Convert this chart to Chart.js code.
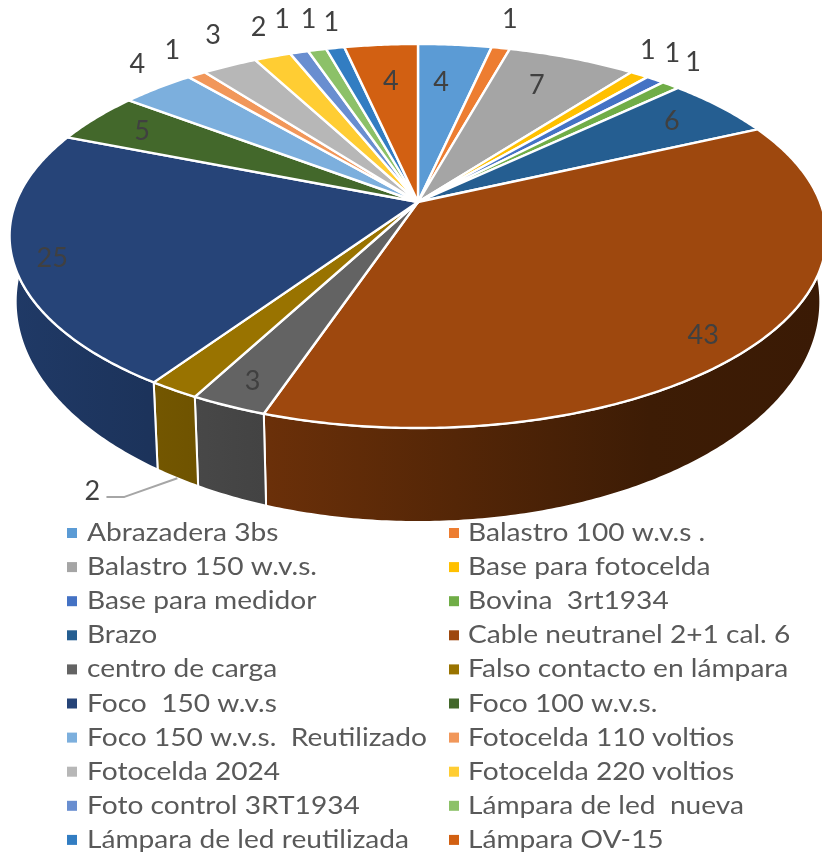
<!DOCTYPE html>
<html><head><meta charset="utf-8">
<style>html,body{margin:0;padding:0;background:#fff}canvas{display:block}</style>
<script src="https://cdn.jsdelivr.net/npm/chart.js@4"></script>
</head><body><canvas id="c" width="822" height="856"></canvas>
<script>
const categories = ["Abrazadera 3bs","Balastro 100 w.v.s .","Balastro 150 w.v.s.","Base para fotocelda","Base para medidor","Bovina  3rt1934","Brazo","Cable neutranel 2+1 cal. 6","centro de carga","Falso contacto en lámpara","Foco  150 w.v.s","Foco 100 w.v.s.","Foco 150 w.v.s.  Reutilizado","Fotocelda 110 voltios","Fotocelda 2024","Fotocelda 220 voltios","Foto control 3RT1934","Lámpara de led  nueva","Lámpara de led reutilizada","Lámpara OV-15"];
const values = [4,1,7,1,1,1,6,43,3,2,25,5,4,1,3,2,1,1,1,4];
const sliceColors = ["#5B9BD5","#ED7D31","#A5A5A5","#FFC000","#4472C4","#70AD47","#255E91","#9E480E","#636363","#997300","#264478","#43682B","#7CAFDD","#F1975A","#B7B7B7","#FFCD33","#698ED0","#8CC168","#327DC2","#D26012"];
// label placement relative to each slice: radius fraction and angular nudge (degrees)
const labelRadius = [.731,1.223,.782,1.166,1.19,1.173,.828,.894,.894,1.374,.91,.842,1.173,1.193,1.228,1.226,1.26,1.236,1.197,.739];
const labelTurn = [-1.1,-.9,-1.2,-3.8,-3.6,-2.7,-.2,3.3,-.1,-3.5,-1.2,-.4,3.3,2,3,2,1.2,1.6,1.4,.3];

const P = {ax:418, ay:202, c:-.177, k:186, d:402, s:.985, ay2:262.6, k2:213.5};
function project(alpha, r, bottom){
  const x = Math.cos(alpha)*r, y = Math.sin(alpha)*r, den = 1+P.c*y;
  return bottom ? [P.ax + P.s*P.d*x/den, P.ay2 + P.k2*y/den]
                : [P.ax + P.d*x/den, P.ay + P.k*y/den];
}
function shade(hex, f){
  const n = parseInt(hex.slice(1),16);
  return `rgb(${((n>>16)&255)*f|0},${((n>>8)&255)*f|0},${(n&255)*f|0})`;
}
function arcPts(a0,a1,bottom){
  const pts=[], n=Math.max(2,Math.ceil((a1-a0)/0.01));
  for(let i=0;i<=n;i++) pts.push(project(a0+(a1-a0)*i/n,1,bottom));
  return pts;
}
function trace(ctx,pts){ctx.beginPath();pts.forEach((p,i)=>i?ctx.lineTo(p[0],p[1]):ctx.moveTo(p[0],p[1]));ctx.closePath();}

const pie3d = {
  id:'pie3d',
  beforeDatasetsDraw(chart){
    const ctx = chart.ctx, arcs = chart.getDatasetMeta(0).data;
    ctx.save();
    ctx.lineJoin='round';
    // side walls
    arcs.forEach((el,i)=>{
      const top=arcPts(el.startAngle,el.endAngle,false), bot=arcPts(el.startAngle,el.endAngle,true).reverse();
      if(Math.sin((el.startAngle+el.endAngle)/2)<-0.2) return;
      const g=ctx.createLinearGradient(0,0,822,0);
      g.addColorStop(0,shade(sliceColors[i],.86));
      g.addColorStop(.18,shade(sliceColors[i],.76));
      g.addColorStop(.32,shade(sliceColors[i],.68));
      g.addColorStop(.79,shade(sliceColors[i],.39));
      g.addColorStop(1,shade(sliceColors[i],.37));
      trace(ctx,top.concat(bot));
      ctx.fillStyle=g;ctx.fill();
      ctx.strokeStyle='#fff';ctx.lineWidth=2;ctx.stroke();
    });
    // top face
    arcs.forEach((el,i)=>{
      const pts=[[P.ax,P.ay]].concat(arcPts(el.startAngle,el.endAngle,false));
      trace(ctx,pts);
      ctx.fillStyle=sliceColors[i];ctx.fill();
      ctx.strokeStyle='#fff';ctx.lineWidth=2.4;ctx.stroke();
    });
    // data labels
    ctx.font='27px Lato';ctx.textAlign='center';ctx.textBaseline='middle';
    arcs.forEach((el,i)=>{
      const mid=(el.startAngle+el.endAngle)/2, a=mid+labelTurn[i]*Math.PI/180;
      const p=project(a,labelRadius[i],false);
      ctx.fillStyle='#404040';
      ctx.fillText(String(values[i]),p[0],p[1]);
      if(labelRadius[i]>1.3){
        const e=project(mid,1,true);
        ctx.strokeStyle='#a6a6a6';ctx.lineWidth=2;
        ctx.beginPath();ctx.moveTo(p[0]+14,p[1]+6);ctx.lineTo(p[0]+32,p[1]+6);ctx.lineTo(e[0],e[1]);ctx.stroke();
      }
    });
    // legend
    ctx.font='25px Lato';ctx.textAlign='left';
    categories.forEach((t,i)=>{
      const col=i%2,row=Math.floor(i/2),y=533+row*34.1;
      const sx=col?449:67, tx=col?468:87;
      ctx.fillStyle=sliceColors[i];ctx.fillRect(sx,y-5,10,10);
      ctx.save();ctx.translate(tx,y);ctx.scale(1.125,1);
      ctx.fillStyle='#595959';ctx.fillText(t,0,0);
      ctx.restore();
    });
    ctx.restore();
    return false;
  }
};
new Chart(document.getElementById('c'),{
  type:'pie',
  data:{labels:categories,datasets:[{data:values,backgroundColor:sliceColors,borderColor:'#fff',borderWidth:2}]},
  options:{responsive:false,animation:false,plugins:{legend:{display:false},title:{display:false}}},
  plugins:[pie3d]
});
</script></body></html>
